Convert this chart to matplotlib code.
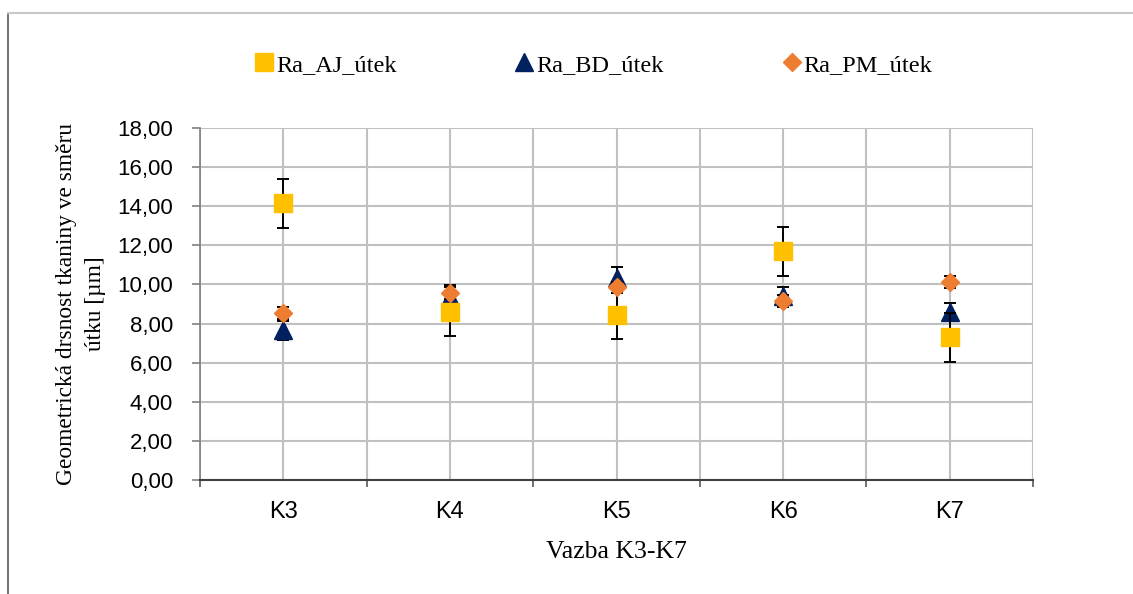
import numpy as np
import matplotlib
matplotlib.use("Agg")
import matplotlib.pyplot as plt
from matplotlib.lines import Line2D

# data
kategorie = ["K3", "K4", "K5", "K6", "K7"]
ra_aj = [14.15, 8.60, 8.45, 11.70, 7.30]
ra_aj_err = [1.25, 1.25, 1.25, 1.25, 1.25]
ra_bd = [7.65, 9.35, 10.35, 9.40, 8.60]
ra_bd_err = [0.50, 0.60, 0.55, 0.48, 0.46]
ra_pm = [8.55, 9.55, 9.85, 9.15, 10.12]
ra_pm_err = [0.30, 0.30, 0.30, 0.30, 0.30]
y_ticks = np.arange(0, 18.01, 2)

serif = ["Liberation Serif", "DejaVu Serif"]
sans = ["Liberation Sans", "DejaVu Sans"]

fig = plt.figure(figsize=(11.33, 5.94), dpi=100)
ax = fig.add_axes([200 / 1133, 114 / 594, 833 / 1133, 352 / 594])

x = np.arange(len(kategorie))
ebkw = dict(ls="none", ecolor="black", elinewidth=1.4, capsize=4.6, capthick=1.4)

# BD nejdriv (je v pozadi)
bd = ax.errorbar(x, ra_bd, yerr=ra_bd_err, marker="^", ms=13, color="#002060",
                 zorder=3, **ebkw)
aj = ax.errorbar(x, ra_aj, yerr=ra_aj_err, marker="s", ms=13.5, color="#FFC000",
                 zorder=4, **ebkw)
pm = ax.errorbar(x, ra_pm, yerr=ra_pm_err, marker="D", ms=8.7, color="#ED7D31",
                 zorder=5, **ebkw)

ax.set_xlim(-0.5, len(kategorie) - 0.5)
ax.set_ylim(0, 18)
ax.set_yticks(y_ticks)
ax.set_yticklabels([f"{v:.2f}".replace(".", ",") for v in y_ticks],
                   family=sans, fontsize=16)
ax.set_xticks(x)
ax.set_xticklabels(kategorie, family=sans, fontsize=17)
ax.set_xticks(np.arange(-0.5, len(kategorie)), minor=True)
ax.tick_params(axis="x", which="major", length=0, pad=15)
ax.tick_params(axis="x", which="minor", length=5, width=1.2, color="#595959")
ax.tick_params(axis="y", length=5.8, width=1.2, color="#808080", pad=13.5)

ax.grid(True, which="both", color="#C0C0C0", lw=1.5, zorder=0)
ax.set_axisbelow(True)
for s in ["top", "right"]:
    ax.spines[s].set_visible(False)
ax.spines["left"].set_color("#808080")
ax.spines["left"].set_linewidth(1.2)
ax.spines["bottom"].set_color("#404040")
ax.spines["bottom"].set_linewidth(1.5)

ax.set_xlabel("Vazba K3-K7", family=serif, fontsize=18.5, labelpad=13)
ax.set_ylabel("Geometrická drsnost tkaniny ve směru\nútku [µm]", family=serif,
              fontsize=16.8, labelpad=8, linespacing=1.5)

handles = [Line2D([], [], ls="none", marker="s", ms=13.5, color="#FFC000"),
           Line2D([], [], ls="none", marker="^", ms=13, color="#002060"),
           Line2D([], [], ls="none", marker="D", ms=8.7, color="#ED7D31")]
ax.legend(handles, ["Ra_AJ_útek", "Ra_BD_útek", "Ra_PM_útek"], ncol=3,
          frameon=False, loc="center left", bbox_to_anchor=(35 / 833, 1.18),
          prop={"family": serif, "size": 17.5}, handlelength=0.6,
          handletextpad=0.2, columnspacing=4.95)

# ramecek grafu
fig.add_artist(Line2D([8 / 1133, 8 / 1133], [0, 1 - 13 / 594],
                      transform=fig.transFigure, color="#595959", lw=1.2))
fig.add_artist(Line2D([8 / 1133, 1], [1 - 13 / 594, 1 - 13 / 594],
                      transform=fig.transFigure, color="#C8C8C8", lw=1.5))

fig.savefig("out.png", dpi=100)
